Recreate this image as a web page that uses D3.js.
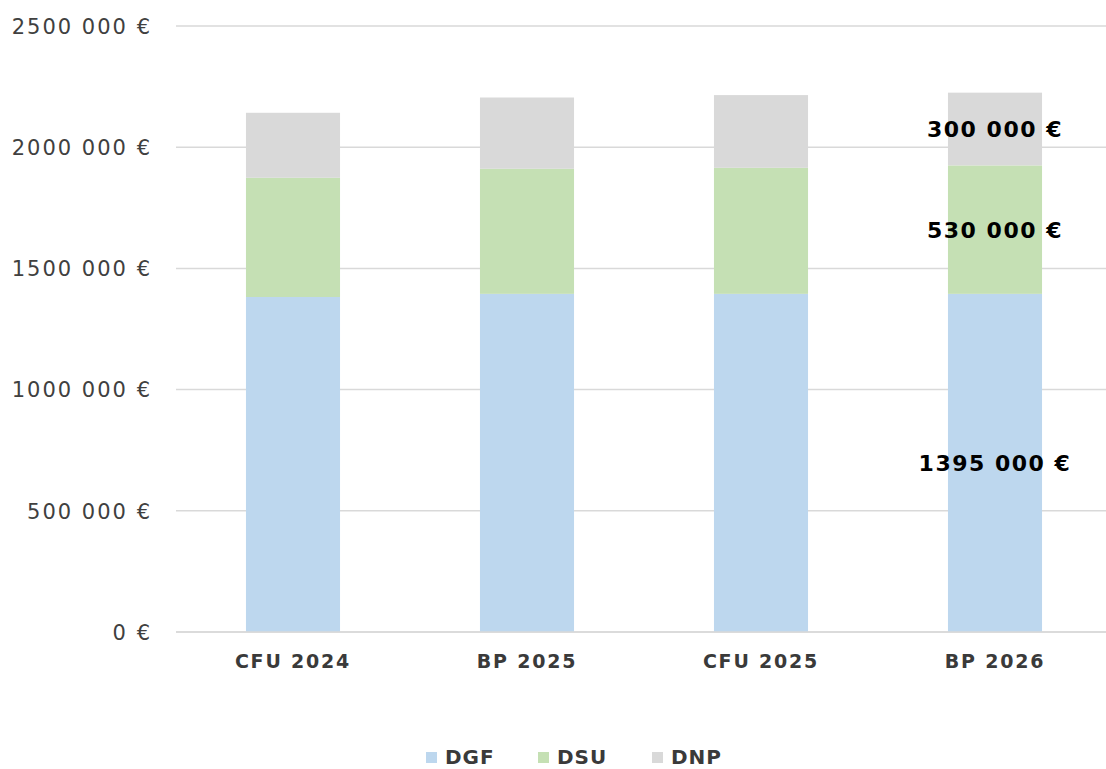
<!DOCTYPE html>
<html><head><meta charset="utf-8">
<script src="https://cdn.jsdelivr.net/npm/d3@7"></script>
<style>
html,body{margin:0;padding:0;background:#fff;}
svg{display:block;}
</style></head>
<body>
<svg id="chart" width="1106" height="769"></svg>
<script>
const categories = ["CFU 2024", "BP 2025", "CFU 2025", "BP 2026"];
const seriesNames = ["DGF", "DSU", "DNP"];
const dgf = [1382000, 1395000, 1395000, 1395000];
const dsu = [492000, 516000, 520000, 530000];
const dnp = [268000, 294000, 300000, 300000];
const colors = ["#BDD7EE", "#C5E0B4", "#D9D9D9"];
const yTicks = [0, 500000, 1000000, 1500000, 2000000, 2500000];
const labelledCategory = "BP 2026";

const svg = d3.select("#chart");
const FONT = "DejaVu Sans, Verdana, sans-serif";
const x = d3.scaleBand().domain(categories).range([176, 1112]).paddingInner(0.598).paddingOuter(0.299);
const y = d3.scaleLinear().domain([0, 2500000]).range([632, 26]);

const fmt = v => {
  const s = d3.format(",")(v).replace(/,/g, " ");
  return s.replace(/^(\d) (\d{3}) /, "$1$2 ") + " €";
};

// gridlines
svg.append("g").selectAll("line").data(yTicks).join("line")
  .attr("x1", 176).attr("x2", 1106)
  .attr("y1", d => y(d)).attr("y2", d => y(d))
  .attr("stroke", "#d9d9d9").attr("stroke-width", 1.5);

// y axis labels
const yAxis = d3.axisLeft(y).tickValues(yTicks).tickSize(0).tickPadding(0).tickFormat(fmt);
const ya = svg.append("g").attr("transform", "translate(152,0)").call(yAxis);
ya.select(".domain").remove();
ya.selectAll("text").attr("font-family", FONT)
  .attr("font-size", 21).attr("letter-spacing", 2).attr("fill", "#404040").attr("dy", "0.35em");

// stacked data
const rows = categories.map((c, i) => ({cat: c, DGF: dgf[i], DSU: dsu[i], DNP: dnp[i]}));
const stack = d3.stack().keys(seriesNames)(rows);

const g = svg.append("g");
stack.forEach((s, si) => {
  g.append("g").attr("fill", colors[si]).selectAll("rect").data(s).join("rect")
    .attr("x", d => x(d.data.cat))
    .attr("width", x.bandwidth())
    .attr("y", d => y(d[1]))
    .attr("height", d => y(d[0]) - y(d[1]));
});

// bottom axis line
svg.append("line").attr("x1", 176).attr("x2", 1106).attr("y1", y(0)).attr("y2", y(0))
  .attr("stroke", "#d9d9d9").attr("stroke-width", 1.5);

// x axis labels
const xAxis = d3.axisBottom(x).tickSize(0).tickPadding(0);
const xa = svg.append("g").attr("transform", `translate(0,${y(0)})`).call(xAxis);
xa.select(".domain").remove();
xa.selectAll("text").attr("font-family", FONT)
  .attr("font-size", 19).attr("font-weight", "bold").attr("letter-spacing", 1.8).attr("fill", "#3a3a3a")
  .attr("y", 0).attr("dy", "1.9em");

// data labels
stack.forEach((s, si) => {
  const d = s.find(p => p.data.cat === labelledCategory);
  g.append("text")
    .attr("x", x(d.data.cat) + x.bandwidth() / 2)
    .attr("y", (y(d[0]) + y(d[1])) / 2)
    .attr("dy", "0.36em")
    .attr("text-anchor", "middle")
    .attr("font-family", FONT)
    .attr("font-size", 22).attr("font-weight", "bold").attr("letter-spacing", 1.5).attr("fill", "#000")
    .text(fmt(d[1] - d[0]));
});

// legend
const legendX = [426, 538, 652];
const lg = svg.append("g");
seriesNames.forEach((n, i) => {
  lg.append("rect").attr("x", legendX[i]).attr("y", 752).attr("width", 11).attr("height", 11).attr("fill", colors[i]);
  lg.append("text").attr("x", legendX[i] + 19).attr("y", 764)
    .attr("font-family", FONT)
    .attr("font-size", 20).attr("font-weight", "bold").attr("letter-spacing", 1).attr("fill", "#3a3a3a").text(n);
});
</script>
</body></html>
